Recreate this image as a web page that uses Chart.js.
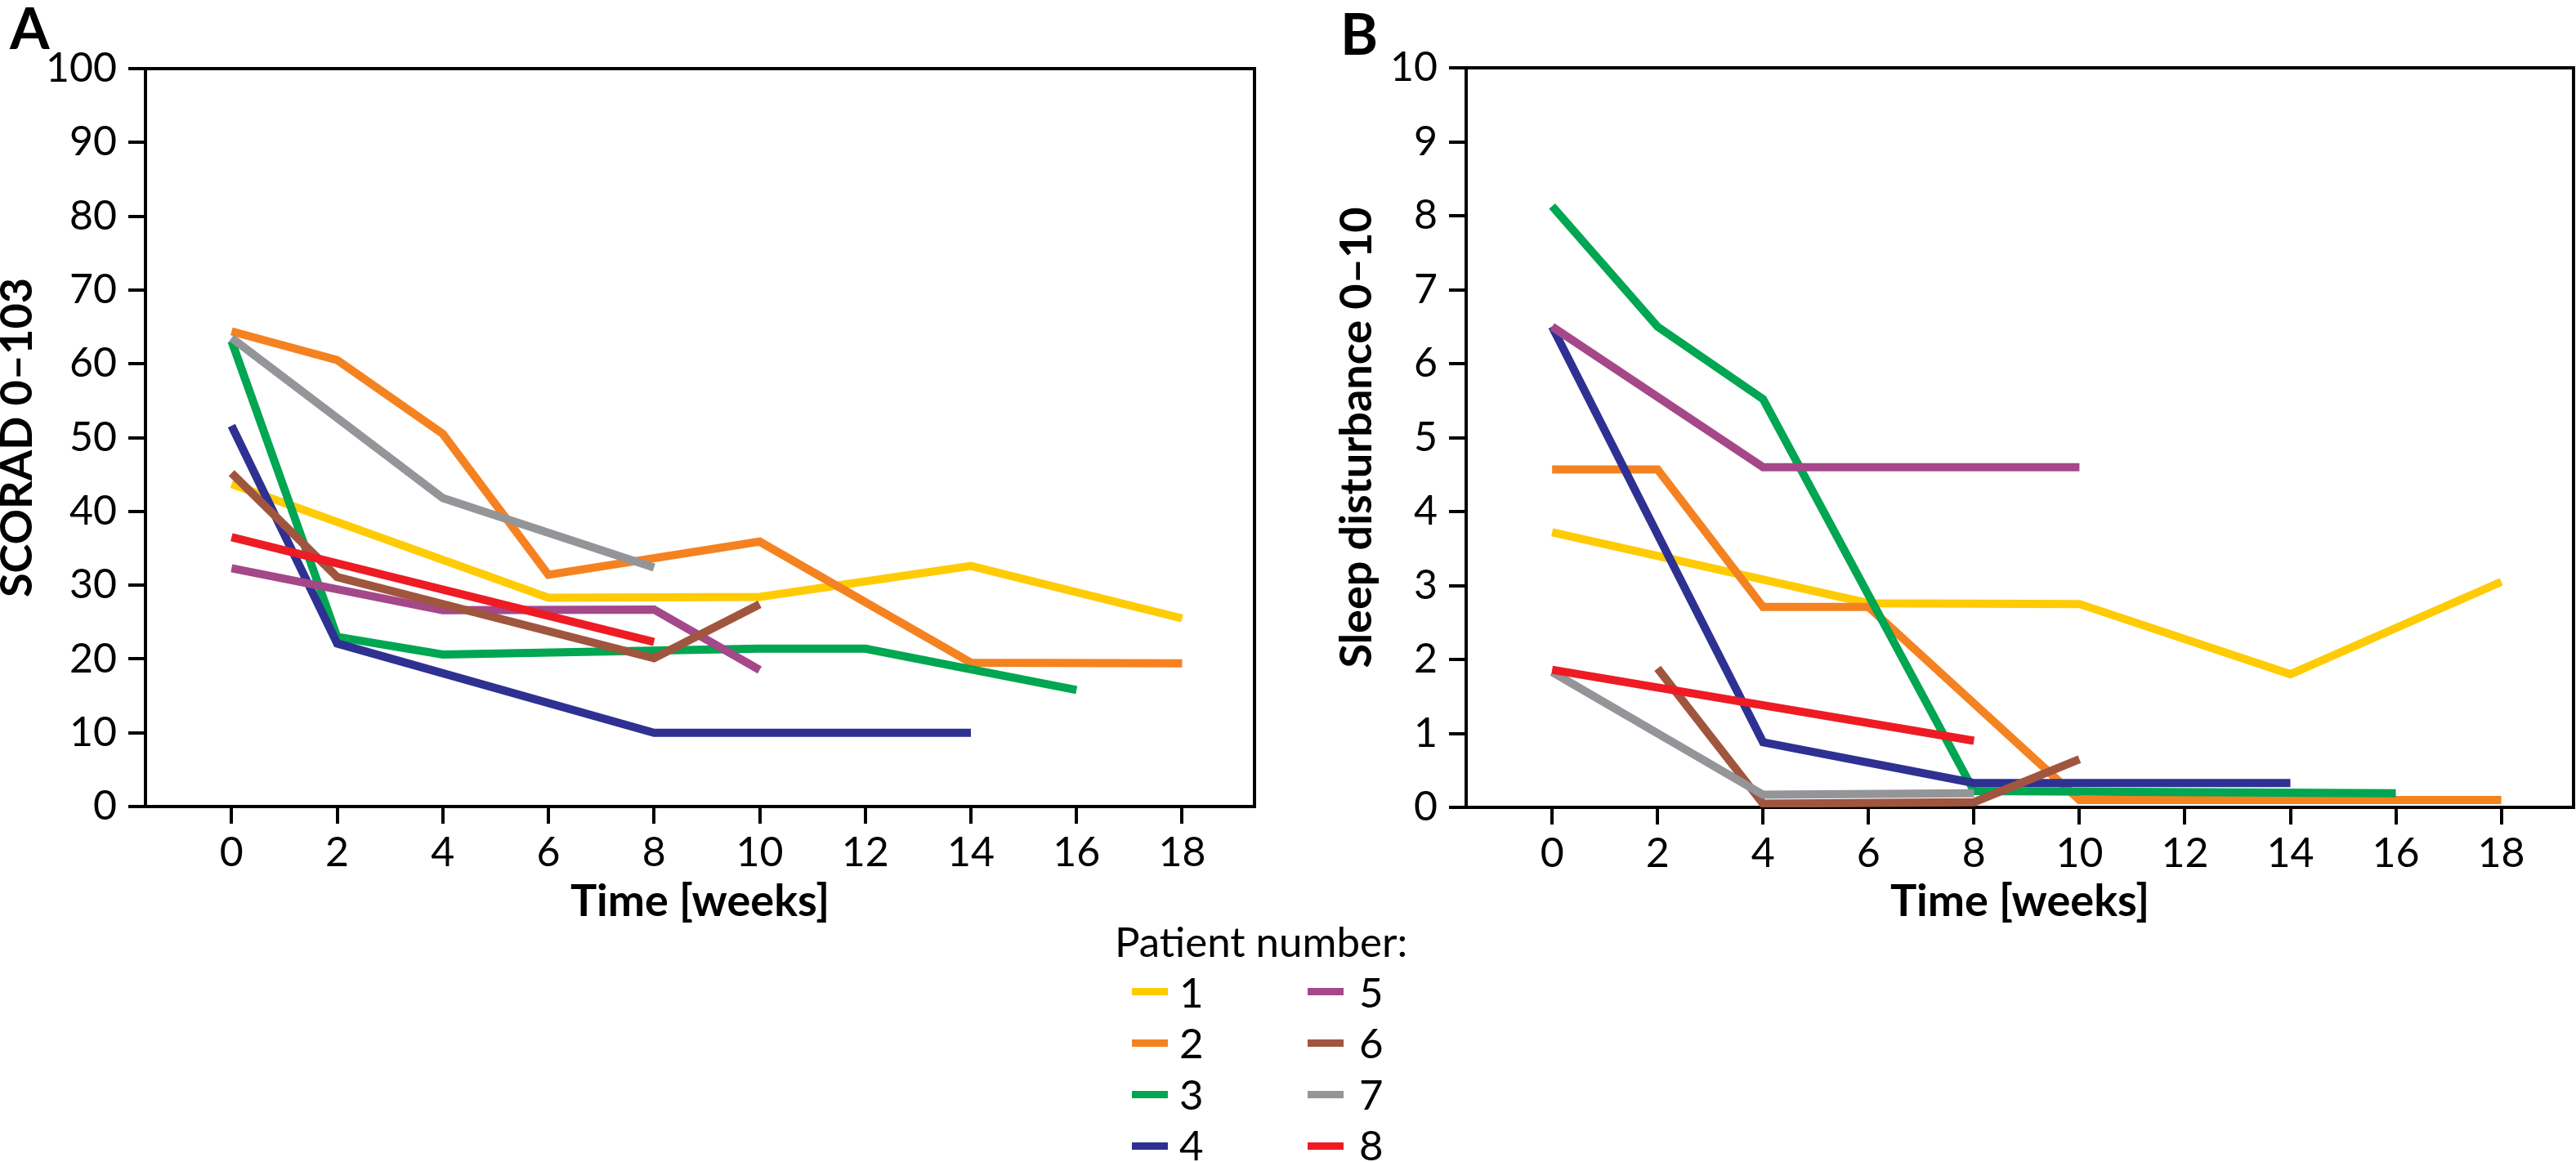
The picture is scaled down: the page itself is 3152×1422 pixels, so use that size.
<!DOCTYPE html>
<html>
<head>
<meta charset="utf-8">
<script src="https://cdn.jsdelivr.net/npm/chart.js@4.4.0/dist/chart.umd.min.js"></script>
<style>
html,body{margin:0;padding:0;background:#fff;}
body{width:3152px;height:1422px;position:relative;overflow:hidden;font-family:Lato,sans-serif;color:#000;}
canvas{position:absolute;top:0;}
#cA{left:0;}
#cB{left:1600px;}
.panel{position:absolute;font-family:Lato;font-weight:bold;font-size:70px;line-height:70px;}
.leg{position:absolute;font-family:Lato;font-size:51px;line-height:51px;white-space:nowrap;}
.sw{position:absolute;height:9px;width:44px;}
</style>
</head>
<body>
<canvas id="cA" width="1560" height="1180"></canvas>
<canvas id="cB" width="1552" height="1180"></canvas>
<div class="panel" style="left:12px;top:-2px">A</div>
<div class="panel" style="left:1640px;top:5px">B</div>
<div id="legend"></div>
<script>
// ---- data ----
const weeks = [0, 2, 4, 6, 8, 10, 12, 14, 16, 18];
const xTicks = [0, 2, 4, 6, 8, 10, 12, 14, 16, 18];
const scoradTicks = [0, 10, 20, 30, 40, 50, 60, 70, 80, 90, 100];
const sleepTicks = [0, 1, 2, 3, 4, 5, 6, 7, 8, 9, 10];
const patients = ['1', '2', '3', '4', '5', '6', '7', '8'];
const colors = ['#FFCB05', '#F58220', '#00A651', '#2E3192', '#A4488A', '#A0553F', '#939598', '#ED1C24'];

// SCORAD 0-103 (panel A), one value per entry of weeks, null = no visible reading
const scoradP1 = [43.7, null, null, 28.3, null, 28.4, null, 32.6, null, 25.5];
const scoradP2 = [64.4, 60.5, 50.5, 31.4, null, 35.9, null, 19.5, null, 19.4];
const scoradP3 = [63.1, 23.0, 20.6, null, null, 21.4, 21.4, null, 15.8, null];
const scoradP4 = [51.6, 22.1, null, null, 10.0, null, null, 10.0, null, null];
const scoradP5 = [32.3, null, 26.6, null, 26.7, 18.5, null, null, null, null];
const scoradP6 = [45.2, 31.1, null, null, 20.1, 27.4, null, null, null, null];
const scoradP7 = [63.5, null, 41.8, null, 32.4, null, null, null, null, null];
const scoradP8 = [36.5, null, null, null, 22.3, null, null, null, null, null];

// Sleep disturbance 0-10 (panel B)
const sleepP1 = [3.72, null, null, 2.76, null, 2.75, null, 1.80, null, 3.05];
const sleepP2 = [4.57, 4.57, 2.71, 2.71, null, 0.10, null, null, null, 0.10];
const sleepP3 = [8.13, 6.50, 5.52, null, 0.22, null, null, null, 0.19, null];
const sleepP4 = [6.50, null, 0.88, null, 0.33, null, null, 0.33, null, null];
const sleepP5 = [6.50, null, 4.60, null, null, 4.60, null, null, null, null];
const sleepP6 = [null, 1.88, 0.05, null, 0.07, 0.65, null, null, null, null];
const sleepP7 = [1.83, null, 0.17, null, 0.19, null, null, null, null, null];
const sleepP8 = [1.86, null, null, null, 0.90, null, null, null, null, null];

const scoradSeries = [scoradP1, scoradP2, scoradP3, scoradP4, scoradP5, scoradP6, scoradP7, scoradP8];
const sleepSeries = [sleepP1, sleepP2, sleepP3, sleepP4, sleepP5, sleepP6, sleepP7, sleepP8];

// ---- drawing ----
const framePlugin = {
  id: 'frame',
  beforeDatasetsDraw(chart) {
    const {ctx, chartArea: a} = chart;
    ctx.save();
    ctx.strokeStyle = '#000';
    ctx.lineWidth = 4;
    ctx.strokeRect(a.left, a.top, a.right - a.left, a.bottom - a.top);
    ctx.restore();
  }
};

function build(id, series, yTicks, yMax, yTitle, g) {
  const tickGrid = {display: true, drawOnChartArea: false, drawTicks: true, tickLength: 21,
                    tickWidth: 4, tickColor: '#000', color: '#000', lineWidth: 4};
  return new Chart(document.getElementById(id), {
    type: 'line',
    data: {
      datasets: series.map((vals, i) => ({
        label: patients[i],
        data: weeks.map((w, j) => ({x: w, y: vals[j]})),
        borderColor: colors[i],
        backgroundColor: colors[i],
        borderWidth: 10,
        pointRadius: 0,
        pointHoverRadius: 0,
        borderCapStyle: 'butt',
        borderJoinStyle: 'miter',
        tension: 0,
        spanGaps: true,
        fill: false,
        order: 8 - i
      }))
    },
    options: {
      responsive: false,
      animation: false,
      devicePixelRatio: 1,
      events: [],
      layout: {padding: {left: 0, top: g.top, right: g.right, bottom: 0}},
      plugins: {legend: {display: false}, tooltip: {enabled: false}},
      scales: {
        x: {
          type: 'linear', min: -1.63, max: 19.37,
          afterBuildTicks: s => { s.ticks = xTicks.map(v => ({value: v})); },
          afterFit: s => { s.height = g.xh; },
          grid: tickGrid,
          border: {display: false},
          ticks: {font: {family: 'Lato', size: 50}, color: '#000', padding: 6, maxRotation: 0, autoSkip: false},
          title: {display: true, text: 'Time [weeks]', color: '#000',
                  font: {family: 'Lato', size: 54, weight: 'bold', lineHeight: 1},
                  padding: {top: 0, bottom: 49}}
        },
        y: {
          type: 'linear', min: 0, max: yMax,
          afterBuildTicks: s => { s.ticks = yTicks.map(v => ({value: v})); },
          afterFit: s => { s.width = g.yw; },
          grid: tickGrid,
          border: {display: false},
          ticks: {font: {family: 'Lato', size: 50}, color: '#000', padding: 14, autoSkip: false},
          title: {display: true, text: yTitle, color: '#000',
                  font: {family: 'Lato', size: 54, weight: 'bold', lineHeight: 0.8},
                  padding: {top: g.tp, bottom: 0}}
        }
      }
    },
    plugins: [framePlugin]
  });
}

function buildLegend() {
  const root = document.getElementById('legend');
  const t = document.createElement('div');
  t.className = 'leg';
  t.style.left = '1364px';
  t.style.top = '1126px';
  t.textContent = 'Patient number:';
  root.appendChild(t);
  patients.forEach((p, i) => {
    const col = Math.floor(i / 4), row = i % 4;
    const swLeft = col === 0 ? 1385 : 1600;
    const lbLeft = col === 0 ? 1443 : 1663;
    const cy = 1213 + row * 63;
    const sw = document.createElement('div');
    sw.className = 'sw';
    sw.style.left = swLeft + 'px';
    sw.style.top = (cy - 4.5) + 'px';
    sw.style.background = colors[i];
    root.appendChild(sw);
    const lb = document.createElement('div');
    lb.className = 'leg';
    lb.style.left = lbLeft + 'px';
    lb.style.top = (1188 + row * 62.3) + 'px';
    lb.textContent = p;
    root.appendChild(lb);
  });
}

function draw() {
  build('cA', scoradSeries, scoradTicks, 100, 'SCORAD 0\u2013103', {top: 84, right: 25, xh: 193, yw: 178, tp: 0});
  build('cB', sleepSeries, sleepTicks, 10, 'Sleep disturbance 0\u201310', {top: 83, right: 3, xh: 192, yw: 194, tp: 39});
  buildLegend();
}

if (document.fonts && document.fonts.load) {
  Promise.all([document.fonts.load('50px Lato'), document.fonts.load('bold 54px Lato')])
    .then(draw, draw);
} else {
  draw();
}
</script>
</body>
</html>
